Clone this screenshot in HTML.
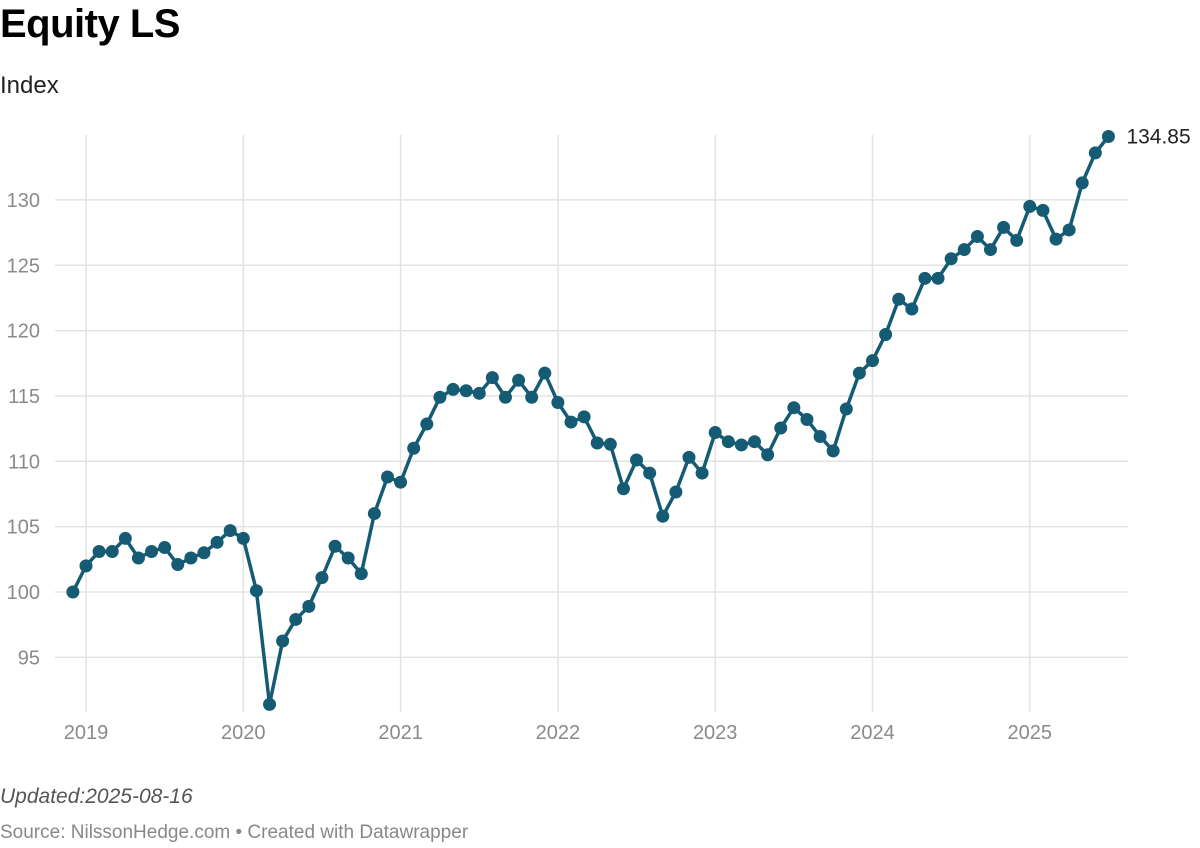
<!DOCTYPE html>
<html><head><meta charset="utf-8">
<style>
body{margin:0;background:#fff;font-family:"Liberation Sans",sans-serif;}
#wrap{position:relative;width:1200px;height:848px;overflow:hidden;}
.t{position:absolute;white-space:nowrap;}
</style></head>
<body>
<div id="wrap">
<div class="t" style="left:0;top:2px;font-size:40px;font-weight:bold;color:#000;letter-spacing:-0.5px">Equity LS</div>
<div class="t" style="left:0;top:72px;font-size:24px;color:#222">Index</div>
<svg id="chart" width="1200" height="780" style="position:absolute;left:0;top:0"></svg>
<div class="t" style="left:0;top:785px;font-size:21px;font-style:italic;color:#555">Updated:2025-08-16</div>
<div class="t" style="left:0;top:822px;font-size:19px;color:#888">Source: NilssonHedge.com • Created with Datawrapper</div>
</div>
<script>
const years=[2019,2020,2021,2022,2023,2024,2025];
const yTicks=[95,100,105,110,115,120,125,130];
const startYear=2018, startMonth=11; // Dec 2018
const values=[100,102.0,103.1,103.1,104.1,102.6,103.1,103.4,102.1,102.6,103.0,103.8,104.7,
104.1,100.1,91.4,96.25,97.9,98.9,101.1,103.5,102.6,101.4,106.0,108.8,
108.4,111.0,112.85,114.9,115.5,115.4,115.2,116.4,114.9,116.2,114.9,116.75,
114.5,113.0,113.4,111.4,111.3,107.9,110.1,109.1,105.8,107.65,110.3,109.1,
112.2,111.5,111.25,111.5,110.5,112.55,114.1,113.2,111.9,110.8,114.0,116.75,
117.7,119.7,122.4,121.65,124.0,124.0,125.5,126.2,127.2,126.2,127.9,126.9,
129.5,129.2,127.0,127.7,131.3,133.6,134.85];
const lastLabel="134.85";
const svg=document.getElementById('chart');
const NS='http://www.w3.org/2000/svg';
function X(t){return 86+(t-2019)*157.3;} // t in fractional years
function Y(v){return 592-(v-100)*13.07;}
function mk(tag,attrs){const e=document.createElementNS(NS,tag);for(const k in attrs)e.setAttribute(k,attrs[k]);svg.appendChild(e);return e;}
yTicks.forEach(v=>{
 const l=mk('line',{x1:55,x2:1128,y1:Y(v),y2:Y(v),stroke:'#e3e3e3','stroke-width':1.5});
 
 
 const t=mk('text',{x:40,y:Y(v)+7,'text-anchor':'end','font-size':20,fill:'#8a8a8a','font-family':'Liberation Sans, sans-serif'});
 t.textContent=v;
 
 
});
years.forEach(yr=>{
 const l=mk('line',{x1:X(yr),x2:X(yr),y1:135,y2:712,stroke:'#e3e3e3','stroke-width':1.5});
 
 
 const t=mk('text',{x:X(yr),y:739,'text-anchor':'middle','font-size':20,fill:'#8a8a8a','font-family':'Liberation Sans, sans-serif'});
 t.textContent=yr;
 
 
});
const pts=values.map((v,i)=>[X(startYear+(startMonth+i)/12),Y(v)]);
const path=mk('polyline',{points:pts.map(p=>p.join(',')).join(' '),fill:'none',stroke:'#165b74','stroke-width':3.5,'stroke-linejoin':'round'});


pts.forEach(p=>{
 const c=mk('circle',{cx:p[0],cy:p[1],r:6.5,fill:'#165b74'});
 
 
});
const lp=pts[pts.length-1];
const lt=mk('text',{x:lp[0]+18,y:lp[1]+7,'font-size':21,fill:'#222','font-family':'Liberation Sans, sans-serif'});
lt.textContent=lastLabel;


</script>
</body></html>
